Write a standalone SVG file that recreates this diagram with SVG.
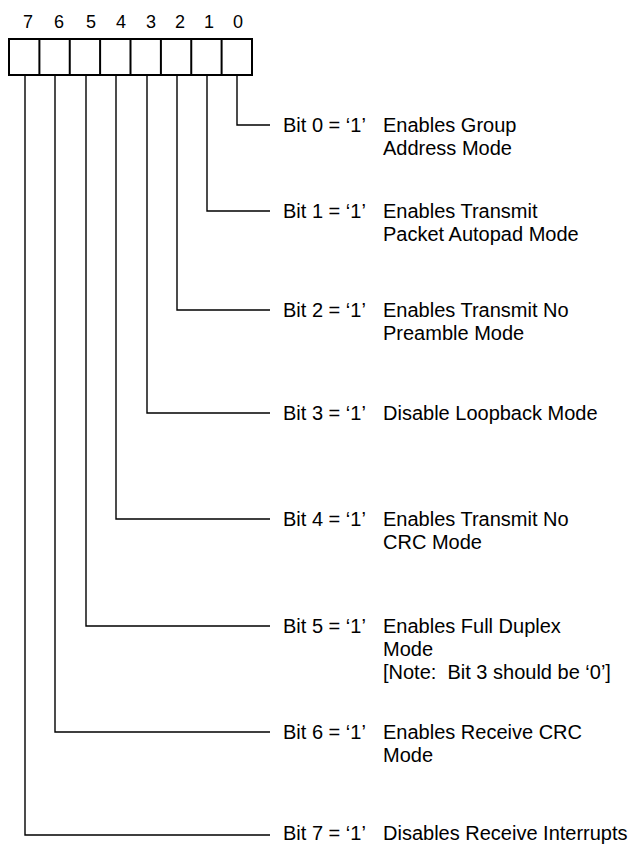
<svg xmlns="http://www.w3.org/2000/svg" width="631" height="845" viewBox="0 0 631 845">
<style>
text{font-family:"Liberation Sans",Arial,sans-serif;font-size:20px;fill:#000}
.d{text-anchor:middle;font-size:18px}
.box{fill:#fff;stroke:#000;stroke-width:2}
.c{fill:none;stroke:#000;stroke-width:1.4}
</style>
<rect width="631" height="845" fill="#fff"/>
<g id="register">
<rect class="box" x="9" y="39" width="243" height="36"/>
<path class="box" d="M39.4 39V75M69.75 39V75M100.1 39V75M130.5 39V75M160.9 39V75M191.25 39V75M221.6 39V75"/>
<text class="d" x="28" y="28">7</text>
<text class="d" x="59" y="28">6</text>
<text class="d" x="91" y="28">5</text>
<text class="d" x="121" y="28">4</text>
<text class="d" x="151" y="28">3</text>
<text class="d" x="180" y="28">2</text>
<text class="d" x="209" y="28">1</text>
<text class="d" x="238" y="28">0</text>
</g>
<g id="connectors">
<path class="c" d="M237 75V125H270"/>
<path class="c" d="M207 75V211H270"/>
<path class="c" d="M177 75V310H270"/>
<path class="c" d="M147 75V413H270"/>
<path class="c" d="M116 75V519H270"/>
<path class="c" d="M86 75V626H270"/>
<path class="c" d="M55 75V732H270"/>
<path class="c" d="M25 75V835H270"/>
</g>
<g id="bit0"><text x="283" y="132">Bit 0 = ‘1’</text><text x="383" y="132">Enables Group</text><text x="383" y="155">Address Mode</text></g>
<g id="bit1"><text x="283" y="218">Bit 1 = ‘1’</text><text x="383" y="218">Enables Transmit</text><text x="383" y="241">Packet Autopad Mode</text></g>
<g id="bit2"><text x="283" y="317">Bit 2 = ‘1’</text><text x="383" y="317">Enables Transmit No</text><text x="383" y="340">Preamble Mode</text></g>
<g id="bit3"><text x="283" y="420">Bit 3 = ‘1’</text><text x="383" y="420">Disable Loopback Mode</text></g>
<g id="bit4"><text x="283" y="526">Bit 4 = ‘1’</text><text x="383" y="526">Enables Transmit No</text><text x="383" y="549">CRC Mode</text></g>
<g id="bit5"><text x="283" y="633">Bit 5 = ‘1’</text><text x="383" y="633">Enables Full Duplex</text><text x="383" y="656">Mode</text><text x="383" y="679" xml:space="preserve">[Note:  Bit 3 should be ‘0’]</text></g>
<g id="bit6"><text x="283" y="739">Bit 6 = ‘1’</text><text x="383" y="739">Enables Receive CRC</text><text x="383" y="762">Mode</text></g>
<g id="bit7"><text x="283" y="840">Bit 7 = ‘1’</text><text x="383" y="840">Disables Receive Interrupts</text></g>
</svg>
